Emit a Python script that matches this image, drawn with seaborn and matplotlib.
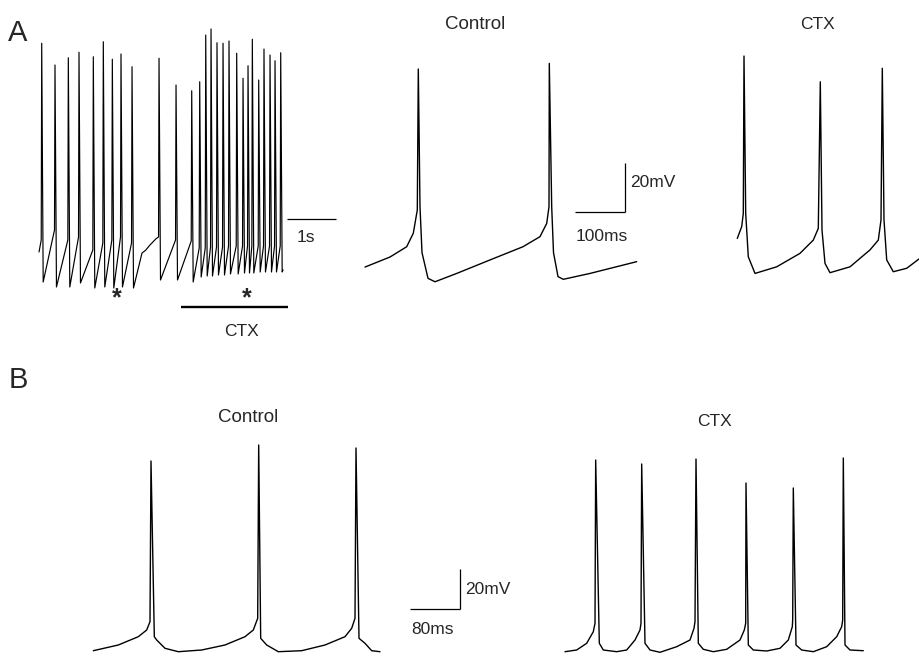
import numpy as np
import pandas as pd
import matplotlib
matplotlib.use('Agg')
import matplotlib.pyplot as plt
import seaborn as sns

# ---- Panel A, long recording (s, mV) ----
train_spike_t = [0.035, 0.306, 0.578, 0.796, 1.088, 1.292, 1.476, 1.653, 1.878,
                 2.429, 2.776, 3.096, 3.259, 3.382, 3.490, 3.612, 3.735, 3.857,
                 4.014, 4.143, 4.245, 4.333, 4.463, 4.571, 4.694, 4.796, 4.912]
train_peak = [26.7, 18.0, 20.9, 23.1, 21.3, 27.3, 20.3, 22.4, 17.3,
              20.7, 10.0, 7.7, 11.3, 30.0, 32.4, 26.9, 26.7, 27.6,
              22.7, 12.7, 17.7, 28.3, 12.0, 24.4, 22.0, 19.7, 22.9]
train_threshold = [-52.0, -48.0, -52.0, -50.8, -56.0, -53.2, -52.0, -50.8, -53.2,
                   -50.8, -52.0, -52.4, -55.2, -55.2, -54.8, -54.8, -54.8, -54.4,
                   -54.4, -54.4, -54.4, -54.4, -54.4, -54.4, -54.4, -54.4, -54.4]
train_trough = [-68.8, -70.8, -70.8, -69.2, -71.2, -70.8, -71.2, -70.8, -71.2,
                -68.0, -68.0, -68.8, -66.8, -66.4, -66.4, -66.0, -66.0, -65.6,
                -65.6, -65.2, -65.2, -65.2, -64.8, -64.8, -64.8, -64.8, -64.8]
# slow depolarisation in the pause before the 10th spike
pause_t = [2.082, 2.150, 2.245, 2.367]
pause_v = [-57.2, -56.2, -54.0, -51.5]
train_start = (-0.02, -56.8)
train_end = (4.96, -64.0)

# ---- Panel A, expanded sweeps (ms, mV) ----
a_ctrl_t = [0, 50, 83.4, 96.6, 104.6, 106.6, 110, 114, 126, 140, 183.4, 250, 316, 350,
            363.4, 368, 368.6, 373.4, 377, 386, 396.6, 450, 543.4]
a_ctrl_v = [-63.9, -59.8, -55.6, -50.1, -40.6, 16.9, -39.3, -58.0, -68.5, -69.9, -66.5,
            -61.0, -55.6, -51.5, -46.1, -39.3, 19.2, -39.3, -58.0, -67.8, -68.9, -66.5, -61.7]
a_ctx_t = [0.6, 9.4, 12.6, 14, 17.4, 22.6, 36, 79.4, 126, 152.6, 162.6, 166.6, 170,
           176, 186, 226, 266, 282.6, 288, 290.6, 294, 299.4, 312.6, 339.4, 366]
a_ctx_v = [-52.2, -47.4, -42.0, 22.2, -42.0, -59.7, -66.5, -63.8, -58.3, -52.9, -48.1,
           11.7, -48.8, -62.4, -66.2, -63.8, -56.9, -52.9, -44.7, 17.2, -44.7, -61.0,
           -65.8, -64.4, -60.3]

# ---- Panel B (ms, mV) ----
b_ctrl_t = [0.5, 40.5, 72.5, 85.9, 91.2, 92.8, 98.1, 101.9, 115.2, 136.5, 173.9, 211.2,
            243.2, 256.5, 263.5, 265.1, 268.3, 277.9, 296.5, 333.9, 371.2, 403.2, 413.9,
            419.2, 420.8, 425.6, 435.2, 445.9, 459.2]
b_ctrl_v = [-69.35, -66.5, -62.35, -59.0, -54.85, 25.5, -62.35, -64.0, -68.15, -69.85,
            -69.0, -66.5, -62.35, -59.0, -53.15, 33.5, -63.15, -66.5, -69.85, -69.35,
            -66.5, -62.35, -58.15, -53.15, 32.0, -63.15, -65.65, -69.35, -69.85]
b_ctx_t = [0, 18.7, 34.7, 45.3, 48, 49.1, 54.9, 61.3, 82.7, 98.7, 112, 120, 121.6, 122.7,
           128, 136, 152, 178.7, 200, 206.4, 208, 209.6, 213.3, 221.3, 237.3, 258.7, 280,
           286.9, 289.1, 289.6, 293.3, 301.3, 322.7, 344, 357.3, 363.7, 364.3, 365.3,
           369.6, 378.7, 397.3, 418.7, 434.7, 442.7, 444.3, 445.3, 448, 456, 477.3]
b_ctx_v = [-69.85, -69.0, -65.65, -59.85, -55.65, 26.0, -65.65, -69.0, -69.85, -69.0,
           -64.0, -59.0, -55.65, 24.0, -65.65, -69.0, -70.15, -67.35, -64.0, -58.15,
           -54.85, 26.5, -65.65, -68.65, -69.85, -68.65, -64.0, -59.0, -55.65, 14.5,
           -66.5, -69.0, -69.5, -68.15, -64.0, -57.35, -54.0, 12.0, -66.5, -69.0,
           -69.85, -67.35, -62.35, -57.35, -54.0, 27.0, -66.5, -69.0, -69.35]

# build the long train from the spike table
ts, vs = [train_start[0]], [train_start[1]]
for t, pk, th, tr in zip(train_spike_t, train_peak, train_threshold, train_trough):
    ts += [t - 0.01, t, t + 0.03]
    vs += [th, pk, tr]
ts += pause_t + [train_end[0]]
vs += pause_v + [train_end[1]]
train = pd.DataFrame({'t': ts, 'v': vs}).sort_values('t')

sns.set_style('white')
plt.rcParams['font.family'] = ['Liberation Sans', 'DejaVu Sans']

W, H = 920, 657
fig = plt.figure(figsize=(9.2, 6.57), dpi=100)


def px_axes(x0, x1, y0, y1, xlim, ylim):
    ax = fig.add_axes([x0 / W, 1 - y1 / H, (x1 - x0) / W, (y1 - y0) / H])
    ax.set_xlim(*xlim)
    ax.set_ylim(*ylim)
    ax.axis('off')
    return ax


def trace(ax, t, v, lw=1.0):
    df = pd.DataFrame({'t': t, 'v': v})
    sns.lineplot(data=df, x='t', y='v', ax=ax, sort=False, estimator=None,
                 color='black', lw=lw)


def scale_bar(ax, x, y, dx, dy, lw=0.9):
    ax.plot([x, x + dx], [y, y], color='black', lw=lw, solid_capstyle='butt')
    if dy:
        ax.plot([x + dx, x + dx], [y, y + dy], color='black', lw=lw, solid_capstyle='butt')


fs = 12.5
fs_title = 13.5

# Panel A: long train
ax = px_axes(30, 345, 20, 345, (-0.204, 6.224), (-94, 36))
sns.lineplot(data=train, x='t', y='v', ax=ax, sort=False, estimator=None,
             color='black', lw=0.85)
scale_bar(ax, 5.04, -43.6, 1.0, 0)
ax.text(5.43, -50.8, '1s', ha='center', va='center', fontsize=fs)
ax.text(1.571, -75.5, '*', ha='center', va='center', fontsize=18, fontweight='bold')
ax.text(4.224, -75.5, '*', ha='center', va='center', fontsize=18, fontweight='bold')
ax.plot([2.878, 5.061], [-78.8, -78.8], color='black', lw=1.7, solid_capstyle='butt')
ax.text(4.122, -88.8, 'CTX', ha='center', va='center', fontsize=fs)

# Panel A: control sweep
ax = px_axes(355, 645, 20, 300, (-20, 560), (-77.34, 36.9))
trace(ax, a_ctrl_t, a_ctrl_v)
scale_bar(ax, 420, -41.4, 100, 20)
ax.text(530, -29.6, '20mV', ha='left', va='center', fontsize=fs)
ax.text(474, -51.6, '100ms', ha='center', va='center', fontsize=fs)
ax.text(220, 34.9, 'Control', ha='center', va='center', fontsize=fs_title)

# Panel A: CTX sweep
ax = px_axes(730, 920, 20, 300, (-14, 366), (-77.34, 36.9))
trace(ax, a_ctx_t, a_ctx_v)
ax.text(162, 34.9, 'CTX', ha='center', va='center', fontsize=fs)

# Panel B: control
ax = px_axes(85, 390, 400, 657, (-12.8, 475.2), (-72.5, 56))
trace(ax, b_ctrl_t, b_ctrl_v)
ax.text(248, 47.5, 'Control', ha='center', va='center', fontsize=fs_title)

# Panel B: CTX + scale bar
ax = px_axes(400, 920, 400, 657, (-264, 568), (-72.5, 56))
trace(ax, b_ctx_t, b_ctx_v)
scale_bar(ax, -248, -48.5, 80, 20)
ax.text(-160, -39, '20mV', ha='left', va='center', fontsize=fs)
ax.text(-212.8, -59, '80ms', ha='center', va='center', fontsize=fs)
ax.text(240, 45, 'CTX', ha='center', va='center', fontsize=fs)

fig.text(18 / W, 1 - 33 / H, 'A', ha='center', va='center', fontsize=21)
fig.text(18 / W, 1 - 380 / H, 'B', ha='center', va='center', fontsize=21)

fig.savefig('out.png', dpi=100)
